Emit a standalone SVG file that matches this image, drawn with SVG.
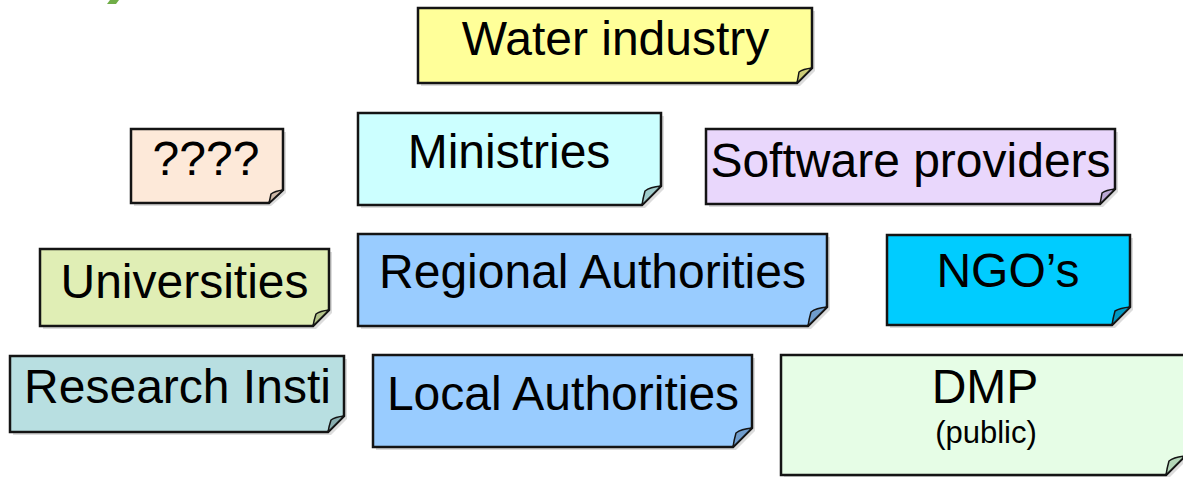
<svg xmlns="http://www.w3.org/2000/svg" width="1183" height="477" viewBox="0 0 1183 477">
<defs>
<style>
.box{stroke:#141414;stroke-width:2.5;stroke-linejoin:miter}
.sh{fill:#9a9a9a;opacity:0.35}
.flap{stroke:#141414;stroke-width:1.5;stroke-linejoin:round}
.t{font-family:"Liberation Sans",Arial,sans-serif;font-size:48px;fill:#000;text-anchor:middle}
.s{font-family:"Liberation Sans",Arial,sans-serif;font-size:31px;fill:#000;text-anchor:middle}
</style>
</defs>
<rect width="1183" height="477" fill="#ffffff"/>
<polygon points="110,0 119,0 116,4 107,4" fill="#70ad47"/>

<g id="water-industry">
<path class="sh" d="M421,11 H815 V71 L800,86 H421 Z"/>
<path class="box" fill="#FFFF99" d="M418,8 H812 V68 L797,83 H418 Z"/>
<path class="flap" fill="#cccc78" d="M812,68 Q803,69 799,72 Q798,78 797,83 Z"/>
<text class="t" x="615.5" y="55">Water industry</text>
</g>

<g id="unknown">
<path class="sh" d="M134,132 H286 V193 L271,206 H134 Z"/>
<path class="box" fill="#FDE9D9" d="M131,129 H283 V190 L269,203 H131 Z"/>
<path class="flap" fill="#cdb8a8" d="M283,190 Q275,191 271,194 Q270,199 269,203 Z"/>
<text class="t" x="206" y="175">????</text>
</g>

<g id="ministries">
<path class="sh" d="M361,116 H664 V189 L645,208 H361 Z"/>
<path class="box" fill="#CCFFFF" d="M358,113 H661 V186 L642,205 H358 Z"/>
<path class="flap" fill="#9fcccc" d="M661,186 Q650,187 645,191 Q643,198 642,205 Z"/>
<text class="t" x="509" y="168">Ministries</text>
</g>

<g id="software-providers">
<path class="sh" d="M709,132 H1118 V192 L1103,207 H709 Z"/>
<path class="box" fill="#E9D7FC" d="M706,129 H1115 V189 L1100,204 H706 Z"/>
<path class="flap" fill="#bba8d4" d="M1115,189 Q1106,190 1102,193 Q1101,199 1100,204 Z"/>
<text class="t" x="910.5" y="177">Software providers</text>
</g>

<g id="universities">
<path class="sh" d="M43,252 H332 V313 L316,329 H43 Z"/>
<path class="box" fill="#E0EEB5" d="M40,249 H329 V310 L313,326 H40 Z"/>
<path class="flap" fill="#b4c48a" d="M329,310 Q320,311 316,314 Q314,320 313,326 Z"/>
<text class="t" x="184.5" y="298">Universities</text>
</g>

<g id="regional-authorities">
<path class="sh" d="M361,237 H830 V310 L811,329 H361 Z"/>
<path class="box" fill="#99CCFF" d="M358,234 H827 V307 L808,326 H358 Z"/>
<path class="flap" fill="#6f9ccc" d="M827,307 Q816,308 811,312 Q809,319 808,326 Z"/>
<text class="t" x="592.5" y="288">Regional Authorities</text>
</g>

<g id="ngos">
<path class="sh" d="M890,238 H1133 V310 L1115,328 H890 Z"/>
<path class="box" fill="#00CCFF" d="M887,235 H1130 V307 L1112,325 H887 Z"/>
<path class="flap" fill="#0099c4" d="M1130,307 Q1120,308 1115,311 Q1113,318 1112,325 Z"/>
<text class="t" x="1008" y="287">NGO’s</text>
</g>

<g id="research-institutes">
<path class="sh" d="M13,359 H347 V419 L331,435 H13 Z"/>
<path class="box" fill="#B8DFE1" d="M10,356 H344 V416 L328,432 H10 Z"/>
<path class="flap" fill="#88adaf" d="M344,416 Q335,417 331,420 Q329,426 328,432 Z"/>
<text class="t" x="177.5" y="403">Research Insti</text>
</g>

<g id="local-authorities">
<path class="sh" d="M376,358 H755 V431 L736,450 H376 Z"/>
<path class="box" fill="#99CCFF" d="M373,355 H752 V428 L733,447 H373 Z"/>
<path class="flap" fill="#6f9ccc" d="M752,428 Q741,429 736,433 Q734,440 733,447 Z"/>
<text class="t" x="563" y="410">Local Authorities</text>
</g>

<g id="dmp">
<path class="sh" d="M784,358 H1188 V459 L1169,478 H784 Z"/>
<path class="box" fill="#E6FDE6" d="M781,355 H1185 V456 L1166,475 H781 Z"/>
<path class="flap" fill="#b3d6b8" d="M1185,456 Q1174,457 1169,461 Q1167,468 1166,475 Z"/>
<text class="t" x="985" y="403">DMP</text>
<text class="s" x="986" y="443">(public)</text>
</g>

<g id="connectors"></g>
</svg>
